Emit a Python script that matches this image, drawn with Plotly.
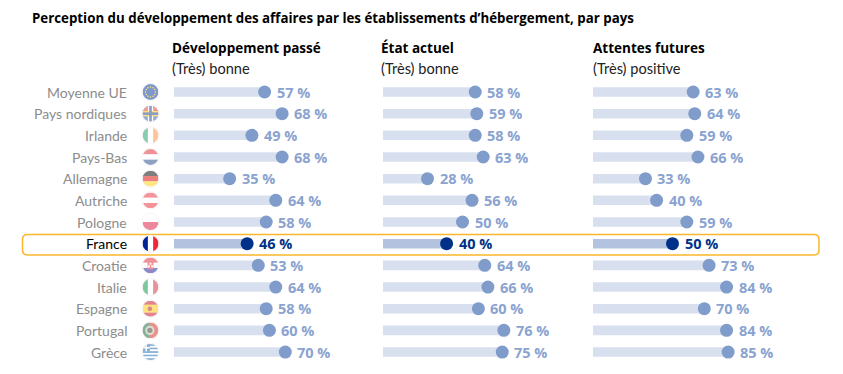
import base64
import plotly.graph_objects as go

W, H = 843, 374
countries = ["Moyenne UE", "Pays nordiques", "Irlande", "Pays-Bas", "Allemagne", "Autriche", "Pologne",
             "France", "Croatie", "Italie", "Espagne", "Portugal", "Grèce"]
passe = [57, 68, 49, 68, 35, 64, 58, 46, 53, 64, 58, 60, 70]
actuel = [58, 59, 58, 63, 28, 56, 50, 40, 64, 66, 60, 76, 75]
futur = [63, 64, 59, 66, 33, 40, 59, 50, 73, 84, 70, 84, 85]
titles = ["Développement passé", "État actuel", "Attentes futures"]
subtitles = ["(Très) bonne", "(Très) bonne", "(Très) positive"]
title = "Perception du développement des affaires par les établissements d’hébergement, par pays"
highlight = "France"

FONT = "Lato"
BOLD = "Open Sans"
LEFTS = [174, 383, 593]
HEAD_X = [170, 379, 591]
AXW = 159
ROW0, PITCH = 92, 21.67


def px(x): return x / W
def py(y): return 1 - y / H


def stripes_h(cols):
    n = len(cols)
    return "".join(f'<rect x="0" y="{i*24/n}" width="24" height="{24/n+.2}" fill="{c}"/>' for i, c in enumerate(cols))


def stripes_v(cols):
    n = len(cols)
    return "".join(f'<rect x="{i*24/n}" y="0" width="{24/n+.2}" height="24" fill="{c}"/>' for i, c in enumerate(cols))


eu_stars = "".join(f'<circle cx="{x}" cy="{y}" r="1.2" fill="#ffcc00"/>' for x, y in
                   [(12, 4.5), (15.8, 5.5), (18.5, 8.2), (19.5, 12), (18.5, 15.8), (15.8, 18.5), (12, 19.5),
                    (8.2, 18.5), (5.5, 15.8), (4.5, 12), (5.5, 8.2), (8.2, 5.5)])
flags = {
    "Moyenne UE": '<rect width="24" height="24" fill="#003399"/>' + eu_stars,
    "Pays nordiques": '<rect width="24" height="24" fill="#2a5cb0"/><rect width="9" height="9" fill="#e8352a"/><rect x="15" width="9" height="9" fill="#e8352a"/><rect x="8" width="8" height="24" fill="#ffffff"/><rect y="8" width="24" height="8" fill="#ffc400"/><rect x="10" width="4" height="24" fill="#1a3f8f"/><rect y="10" width="24" height="4" fill="#1a3f8f"/>',
    "Irlande": stripes_v(["#169b62", "#ffffff", "#ff883e"]),
    "Pays-Bas": stripes_h(["#e0262e", "#ffffff", "#21468b"]),
    "Allemagne": stripes_h(["#000000", "#dd0000", "#ffce00"]),
    "Autriche": stripes_h(["#ed2939", "#ffffff", "#ed2939"]),
    "Pologne": stripes_h(["#ffffff", "#ffffff", "#dc143c", "#dc143c"]),
    "France": stripes_v(["#002395", "#ffffff", "#ed2939"]),
    "Croatie": stripes_h(["#e0262e", "#ffffff", "#171796"]) + '<rect x="7.5" y="6" width="9" height="12" fill="#e0262e"/><rect x="10.5" y="8" width="3" height="3" fill="#fff"/><rect x="8" y="12" width="3" height="3" fill="#fff"/><rect x="13" y="12" width="3" height="3" fill="#fff"/>',
    "Italie": stripes_v(["#009246", "#ffffff", "#ce2b37"]),
    "Espagne": stripes_h(["#c60b1e", "#ffc400", "#ffc400", "#c60b1e"]) + '<circle cx="11" cy="12" r="3.5" fill="#ad1519"/>',
    "Portugal": '<rect width="24" height="24" fill="#d8261c"/><rect width="10" height="24" fill="#046a38"/><circle cx="11" cy="12" r="7" fill="#bfbfa0"/><circle cx="11" cy="12" r="4" fill="#333"/>',
    "Grèce": stripes_h(["#0d5eaf", "#ffffff"] * 4 + ["#0d5eaf"]) + '<rect width="11" height="11" fill="#0d5eaf"/><rect x="4.3" width="2.4" height="11" fill="#fff"/><rect y="4.3" width="11" height="2.4" fill="#fff"/>',
}


def flag_uri(name):
    svg = ('<svg xmlns="http://www.w3.org/2000/svg" width="48" height="48" viewBox="-2 -2 28 28">'
           '<defs><clipPath id="c"><circle cx="12" cy="12" r="12"/></clipPath></defs>'
           '<circle cx="12" cy="12" r="13.2" fill="#ffffff" stroke="#e4e4e4" stroke-width="1"/>'
           f'<g clip-path="url(#c)">{flags[name]}</g></svg>')
    return "data:image/svg+xml;base64," + base64.b64encode(svg.encode()).decode()


fig = go.Figure()
rows = list(range(len(countries)))
annotations, images = [], []
for k, (vals, head_x, head, sub) in enumerate(zip([passe, actuel, futur], HEAD_X, titles, subtitles)):
    xa = "x" if k == 0 else f"x{k+1}"
    bar_cols = ["#b3c3df" if c == highlight else "#d8e0ef" for c in countries]
    dot_cols = ["#003189" if c == highlight else "#7f9ccb" for c in countries]
    fig.add_trace(go.Bar(x=vals, y=rows, orientation="h", width=0.44, marker=dict(color=bar_cols, line_width=0),
                         xaxis=xa, yaxis="y", showlegend=False, hoverinfo="skip"))
    fig.add_trace(go.Scatter(x=vals, y=rows, mode="markers", marker=dict(size=13, color=dot_cols),
                             xaxis=xa, yaxis="y", showlegend=False, cliponaxis=False))
    for r, v, c in zip(rows, vals, countries):
        annotations.append(dict(x=v, y=r, xref=xa, yref="y", xanchor="left", yanchor="middle", xshift=10, showarrow=False,
                                text=f"<b>{v} %</b>", font=dict(family=BOLD, size=14.5,
                                color="#003189" if c == highlight else "#8aa3d0")))
    annotations.append(dict(x=px(head_x), y=py(48), xref="paper", yref="paper", xanchor="left", yanchor="middle",
                            showarrow=False, text=f"<b>{head}</b>", font=dict(family=BOLD, size=13.5, color="#000")))
    annotations.append(dict(x=px(head_x), y=py(68), xref="paper", yref="paper", xanchor="left", yanchor="middle",
                            showarrow=False, text=sub, font=dict(family=FONT, size=14.6, color="#222")))

for r, c in zip(rows, countries):
    y = ROW0 + PITCH * r
    annotations.append(dict(x=px(129), y=py(y), xref="paper", yref="paper", xanchor="right", yanchor="middle",
                            showarrow=False, text=c, font=dict(family=FONT, size=14,
                            color="#000" if c == highlight else "#8c8c8c")))
    images.append(dict(source=flag_uri(c), xref="paper", yref="paper", x=px(150.5), y=py(y), sizex=18.5 / W, sizey=18.5 / H,
                       xanchor="center", yanchor="middle", sizing="contain", layer="above",
                       opacity=1 if c == highlight else 0.5))

annotations.append(dict(x=px(30), y=py(18), xref="paper", yref="paper", xanchor="left", yanchor="middle",
                        showarrow=False, text=f"<b>{title}</b>", font=dict(family=BOLD, size=13.3, color="#000")))

rx0, rx1, ry0, ry1, rad = 22.5, 819, 234.5, 255, 5
path = (f"M {px(rx0+rad)} {py(ry0)} L {px(rx1-rad)} {py(ry0)} Q {px(rx1)} {py(ry0)} {px(rx1)} {py(ry0+rad)} "
        f"L {px(rx1)} {py(ry1-rad)} Q {px(rx1)} {py(ry1)} {px(rx1-rad)} {py(ry1)} "
        f"L {px(rx0+rad)} {py(ry1)} Q {px(rx0)} {py(ry1)} {px(rx0)} {py(ry1-rad)} "
        f"L {px(rx0)} {py(ry0+rad)} Q {px(rx0)} {py(ry0)} {px(rx0+rad)} {py(ry0)} Z")

layout = dict(width=W, height=H, margin=dict(l=0, r=0, t=0, b=0), paper_bgcolor="#fff", plot_bgcolor="rgba(0,0,0,0)",
              barmode="overlay", annotations=annotations, images=images,
              shapes=[dict(type="path", path=path, xref="paper", yref="paper", line=dict(color="#fbb62c", width=1.5), layer="below")],
              yaxis=dict(visible=False, domain=[0, 1], range=[(H - ROW0) / PITCH, -ROW0 / PITCH], fixedrange=True))
for k, left in enumerate(LEFTS):
    name = "xaxis" if k == 0 else f"xaxis{k+1}"
    layout[name] = dict(visible=False, domain=[px(left), px(left + AXW)], range=[0, 100], anchor="y", fixedrange=True)
fig.update_layout(**layout)
fig.write_html("out.html", config={"displayModeBar": False},
               post_script="document.body.style.margin='0';document.documentElement.style.overflow='hidden';")
